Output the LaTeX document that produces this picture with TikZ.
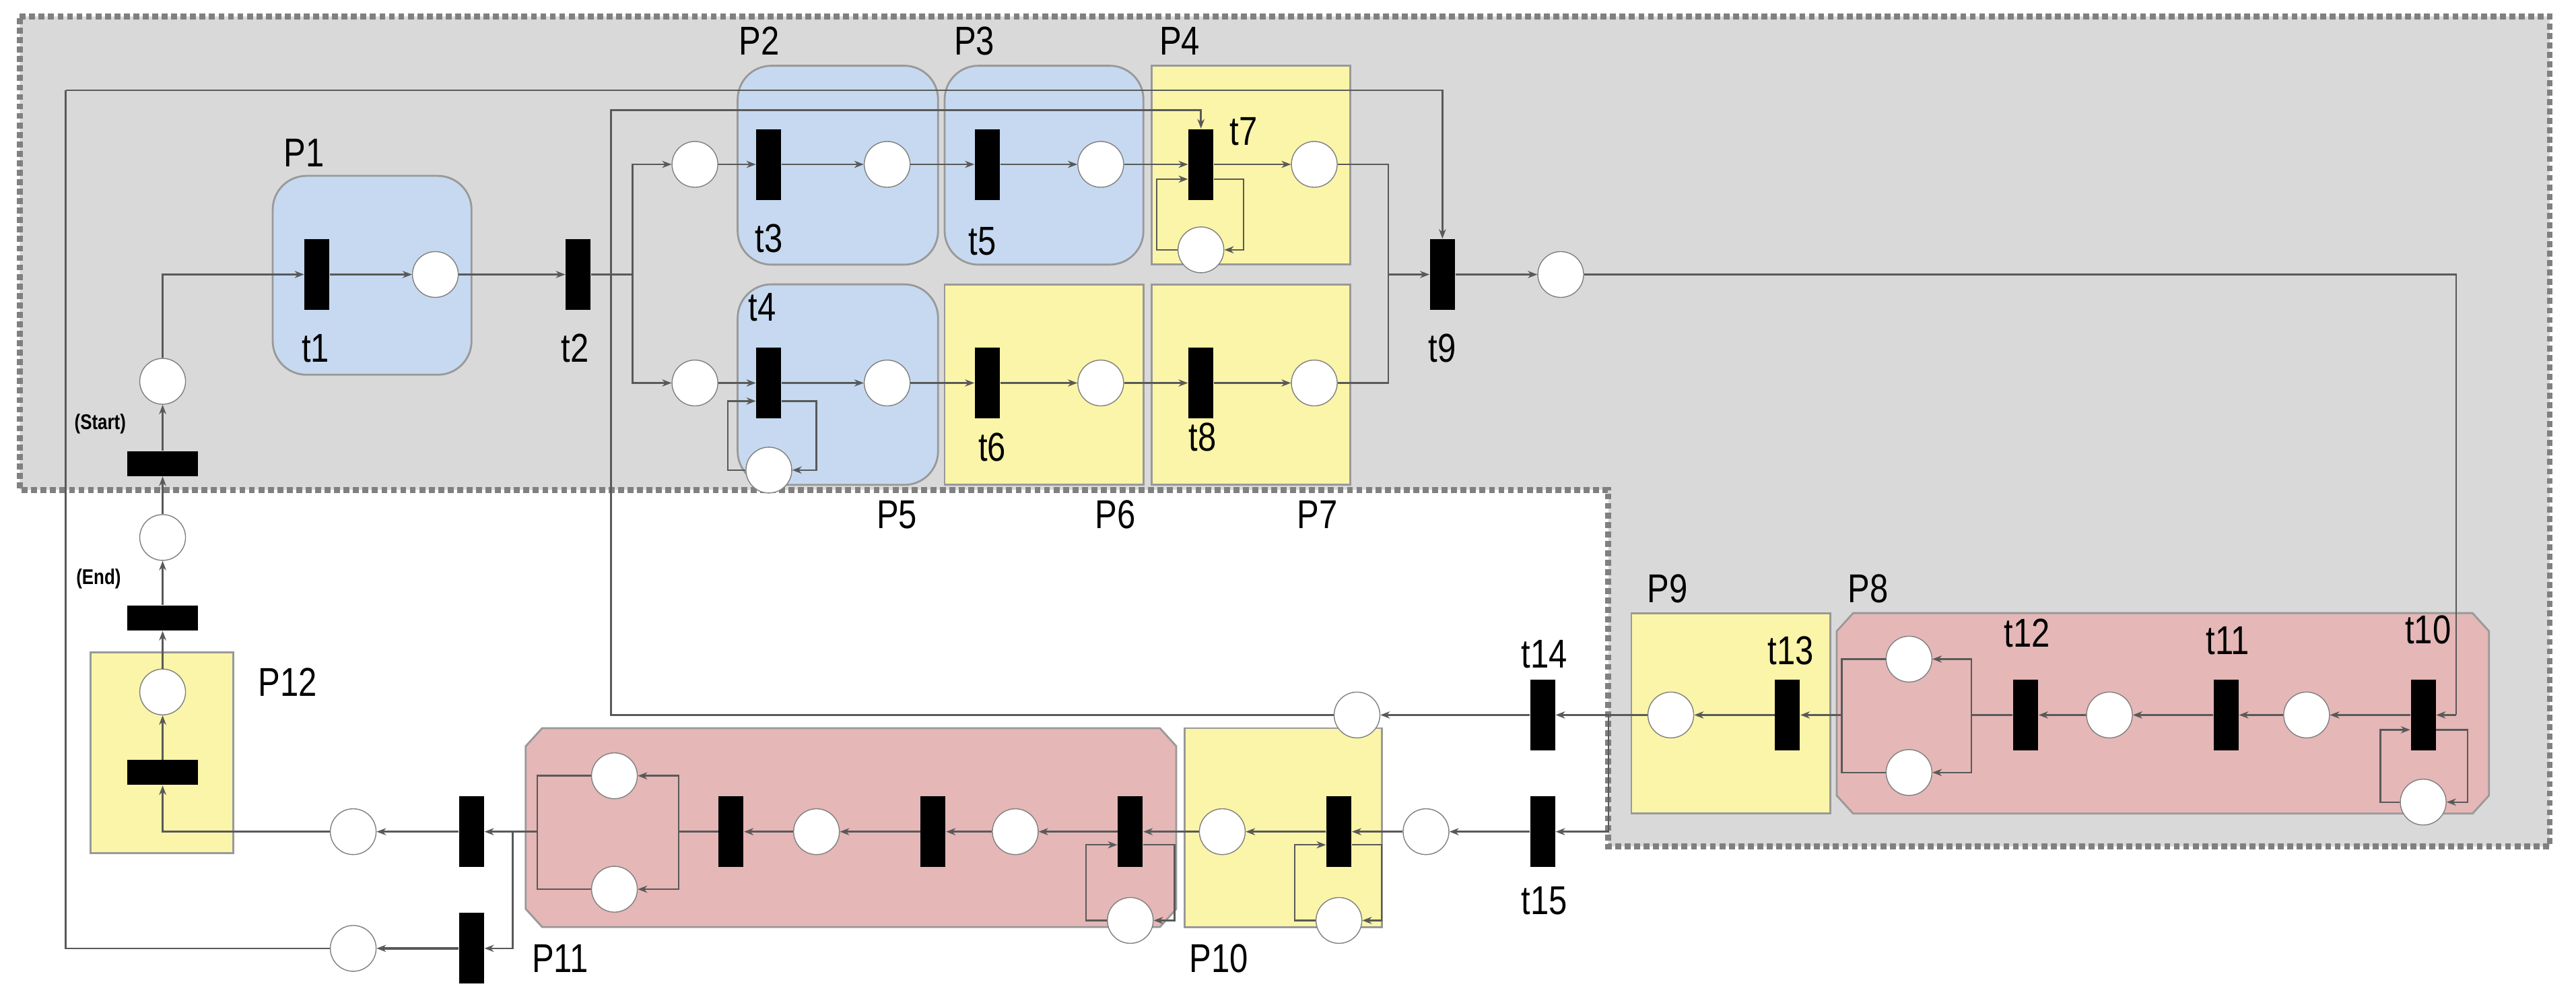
\documentclass[tikz,border=0pt]{standalone}
\usepackage{fontspec}
\setmainfont{Liberation Sans}[FakeStretch=0.82]
\usetikzlibrary{arrows.meta}
\definecolor{bgg}{HTML}{D9D9D9}
\definecolor{bl}{HTML}{C6D9F0}
\definecolor{yl}{HTML}{FAF5A8}
\definecolor{rd}{HTML}{E5B7B7}
\definecolor{bd}{HTML}{999999}
\begin{document}
\begin{tikzpicture}[x=0.0244cm,y=-0.0244cm,
 pl/.style={circle,draw=black!50,fill=white,minimum size=0.68cm,inner sep=0pt},
 vt/.style={rectangle,fill=black,minimum width=0.37cm,minimum height=1.05cm,inner sep=0pt},
 ht/.style={rectangle,fill=black,minimum width=1.05cm,minimum height=0.37cm,inner sep=0pt},
 ln/.style={draw=black!65,line width=0.7pt},
 arr/.style={ln,-{Stealth[length=4pt,width=3pt]}},
 lab/.style={font=\fontsize{17}{17}\selectfont,inner sep=0pt},
 sl/.style={font=\fontsize{9}{9}\selectfont\bfseries,inner sep=0pt},
 bbox/.style={fill=bl,draw=bd,line width=0.8pt,rounded corners=0.5cm},
 ybox/.style={fill=yl,draw=bd,line width=0.8pt},
 rbox/.style={fill=rd,draw=bd,line width=0.8pt}]
\useasboundingbox (0,0) rectangle (1568,610);
% grey region
\fill[bgg] (12,10) -- (1552,10) -- (1552,515) -- (979,515) -- (979,298) -- (12,298) -- cycle;
\draw[black!50,line width=2.5pt,dash pattern=on 2.5pt off 1.5pt] (12,10) -- (1552,10) -- (1552,515) -- (979,515) -- (979,298) -- (12,298) -- cycle;
% boxes
\draw[bbox] (166,107) rectangle (287,228);
\draw[bbox] (449,40) rectangle (571,161);
\draw[bbox] (575,40) rectangle (696,161);
\draw[ybox] (701,40) rectangle (822,161);
\draw[bbox] (449,173) rectangle (571,295);
\draw[ybox] (575,173) rectangle (696,295);
\draw[ybox] (701,173) rectangle (822,295);
\draw[ybox] (993,373) rectangle (1114,495);
\draw[rbox] (1128,373) -- (1505,373) -- (1515,384) -- (1515,484) -- (1505,495) -- (1128,495) -- (1118,484) -- (1118,384) -- cycle;
\draw[ybox] (721,443) rectangle (841,564);
\draw[rbox] (330,443) -- (706,443) -- (716,454) -- (716,553) -- (706,564) -- (330,564) -- (320,553) -- (320,454) -- cycle;
\draw[ybox] (55,397) rectangle (142,519);
% nodes
\node[ht] (ts) at (99,282) {};
\node[pl] (ps) at (99,232) {};
\node[vt] (t1) at (193,167) {};
\node[pl] (p1) at (265,167) {};
\node[vt] (t2) at (352,167) {};
\node[pl] (pa) at (423,100) {};
\node[pl] (pb) at (423,233) {};
\node[vt] (t3) at (468,100) {};
\node[pl] (p3) at (540,100) {};
\node[vt] (t5) at (601,100) {};
\node[pl] (p5) at (670,100) {};
\node[vt] (t7) at (731,100) {};
\node[pl] (p7) at (800,100) {};
\node[pl] (p7s) at (731,152) {};
\node[vt] (t4) at (468,233) {};
\node[pl] (p4) at (540,233) {};
\node[pl] (p4s) at (468,286) {};
\node[vt] (t6) at (601,233) {};
\node[pl] (p6) at (670,233) {};
\node[vt] (t8) at (731,233) {};
\node[pl] (p8) at (800,233) {};
\node[vt] (t9) at (878,167) {};
\node[pl] (p9) at (950,167) {};
\node[vt] (t10) at (1475,435) {};
\node[pl] (p10s) at (1475,488) {};
\node[pl] (q11) at (1404,435) {};
\node[vt] (t11) at (1355,435) {};
\node[pl] (q12) at (1284,435) {};
\node[vt] (t12) at (1233,435) {};
\node[pl] (qa) at (1162,401) {};
\node[pl] (qb) at (1162,470) {};
\node[vt] (t13) at (1088,435) {};
\node[pl] (q9) at (1017,435) {};
\node[vt] (t14) at (939,435) {};
\node[pl] (q14) at (826,435) {};
\node[vt] (t15) at (939,506) {};
\node[pl] (q15) at (868,506) {};
\node[vt] (u1) at (815,506) {};
\node[pl] (u1s) at (815,560) {};
\node[pl] (v1) at (744,506) {};
\node[vt] (u2) at (688,506) {};
\node[pl] (u2s) at (688,560) {};
\node[pl] (v2) at (618,506) {};
\node[vt] (u3) at (568,506) {};
\node[pl] (v3) at (497,506) {};
\node[vt] (u4) at (445,506) {};
\node[pl] (wa) at (374,472) {};
\node[pl] (wb) at (374,541) {};
\node[vt] (u5) at (287,506) {};
\node[pl] (w5) at (215,506) {};
\node[vt] (u6) at (287,577) {};
\node[pl] (w6) at (215,577) {};
\node[ht] (tp12) at (99,470) {};
\node[pl] (pp12) at (99,421) {};
\node[ht] (te) at (99,376) {};
\node[pl] (pe) at (99,327) {};
% coordinates
\coordinate (br) at (385,167);
\coordinate (j9) at (845,167);
\coordinate (c10) at (1495,435);
\coordinate (bq) at (1200,435);
\coordinate (bl) at (1121,435);
\coordinate (sp) at (979,435);
\coordinate (bw) at (413,506);
\coordinate (lw) at (327,506);
\coordinate (lw2) at (312,506);
\coordinate (r1) at (372,67);
\coordinate (r0) at (40,55);
% connectors top
\draw[arr] (ts) -- (ps);
\draw[arr] (ps) |- (t1);
\draw[arr] (t1) -- (p1);
\draw[arr] (p1) -- (t2);
\draw[ln] (t2) -- (br);
\draw[arr] (br) |- (pa);
\draw[arr] (br) |- (pb);
\draw[arr] (pa) -- (t3);
\draw[arr] (t3) -- (p3);
\draw[arr] (p3) -- (t5);
\draw[arr] (t5) -- (p5);
\draw[arr] (p5) -- (t7);
\draw[arr] (t7) -- (p7);
\draw[arr] (pb) -- (t4);
\draw[arr] (t4) -- (p4);
\draw[arr] (p4) -- (t6);
\draw[arr] (t6) -- (p6);
\draw[arr] (p6) -- (t8);
\draw[arr] (t8) -- (p8);
\draw[ln] (p7) -| (j9);
\draw[ln] (p8) -| (j9);
\draw[arr] (j9) -- (t9);
\draw[arr,line width=1pt] (t9) -- (p9);
% self loops
\draw[arr] (t7.east |- 0,109) -- (757,109) |- (p7s);
\draw[arr] (p7s.west) -- (704,152) |- (t7.west |- 0,109);
\draw[arr] (t4.east |- 0,244) -- (497,244) |- (p4s);
\draw[arr] (p4s.west) -- (443,286) |- (t4.west |- 0,244);
\draw[arr] (t10.east |- 0,444) -- (1502,444) |- (p10s);
\draw[arr] (p10s.west) -- (1449,488) |- (t10.west |- 0,444);
\draw[arr] (u1.east |- 0,514) -- (841,514) |- (u1s);
\draw[arr] (u1s.west) -- (788,560) |- (u1.west |- 0,514);
\draw[arr] (u2.east |- 0,514) -- (715,514) |- (u2s);
\draw[arr] (u2s.west) -- (661,560) |- (u2.west |- 0,514);
% right lower
\draw[ln] (p9) -| (c10);
\draw[arr] (c10) -- (t10);
\draw[arr] (t10) -- (q11);
\draw[arr] (q11) -- (t11);
\draw[arr] (t11) -- (q12);
\draw[arr] (q12) -- (t12);
\draw[ln] (t12) -- (bq);
\draw[arr] (bq) |- (qa);
\draw[arr] (bq) |- (qb);
\draw[ln] (qa) -| (bl);
\draw[ln] (qb) -| (bl);
\draw[arr,line width=1pt] (bl) -- (t13);
\draw[arr] (t13) -- (q9);
\draw[arr] (q9) -- (t14);
\draw[arr] (sp) |- (t15);
\draw[arr,line width=1pt] (t14) -- (q14);
\draw[arr] (q14) -| (r1) -| (t7.north);
% bottom chain
\draw[arr,line width=1pt] (t15) -- (q15);
\draw[arr] (q15) -- (u1);
\draw[arr] (u1) -- (v1);
\draw[arr] (v1) -- (u2);
\draw[arr] (u2) -- (v2);
\draw[arr] (v2) -- (u3);
\draw[arr] (u3) -- (v3);
\draw[arr] (v3) -- (u4);
\draw[ln] (u4) -- (bw);
\draw[arr] (bw) |- (wa);
\draw[arr] (bw) |- (wb);
\draw[ln] (wa) -| (lw);
\draw[ln] (wb) -| (lw);
\draw[arr,line width=1pt] (lw) -- (u5);
\draw[arr] (lw2) |- (u6);
\draw[arr,line width=1pt] (u5) -- (w5);
\draw[arr,line width=1pt] (u6) -- (w6);
\draw[arr] (w5) -| (tp12);
\draw[arr] (tp12) -- (pp12);
\draw[arr] (pp12) -- (te);
\draw[arr] (te) -- (pe);
\draw[arr] (pe) -- (ts);
\draw[ln] (w6) -| (r0);
\draw[arr] (r0) -| (t9.north);
% labels
\node[lab] at (185,93) {P1};
\node[lab] at (462,25) {P2};
\node[lab] at (593,25) {P3};
\node[lab] at (718,25) {P4};
\node[lab] at (546,313) {P5};
\node[lab] at (679,313) {P6};
\node[lab] at (802,313) {P7};
\node[lab] at (1137,358) {P8};
\node[lab] at (1015,358) {P9};
\node[lab] at (742,583) {P10};
\node[lab] at (341,583) {P11};
\node[lab] at (175,415) {P12};
\node[lab] at (192,212) {t1};
\node[lab] at (350,212) {t2};
\node[lab] at (468,145) {t3};
\node[lab] at (464,187) {t4};
\node[lab] at (598,147) {t5};
\node[lab] at (604,272) {t6};
\node[lab] at (757,80) {t7};
\node[lab] at (732,266) {t8};
\node[lab] at (878,212) {t9};
\node[lab] at (1478,383) {t10};
\node[lab] at (1356,390) {t11};
\node[lab] at (1234,385) {t12};
\node[lab] at (1090,396) {t13};
\node[lab] at (940,398) {t14};
\node[lab] at (940,548) {t15};
\node[sl] at (61,258) {(Start)};
\node[sl] at (60,352) {(End)};
\end{tikzpicture}
\end{document}
